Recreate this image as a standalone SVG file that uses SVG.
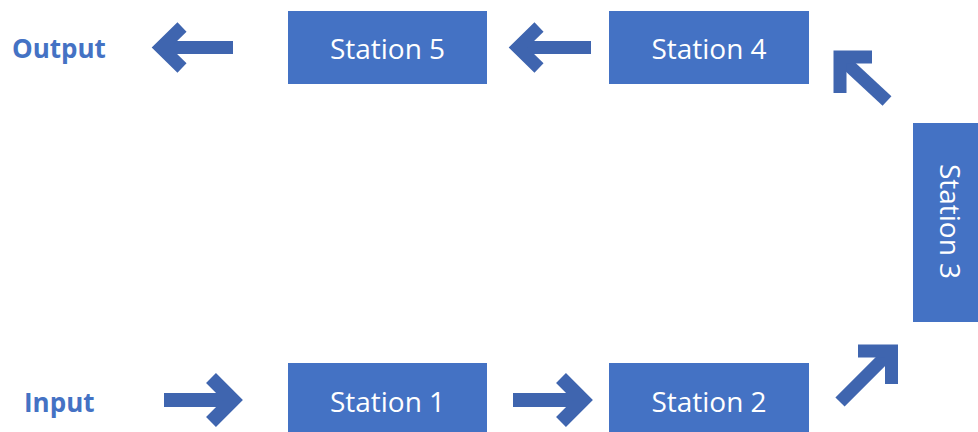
<svg xmlns="http://www.w3.org/2000/svg" width="978" height="432" viewBox="0 0 978 432">
  <style>
    .box { fill: #4472C4; }
    .lbl { fill: #ffffff; font-family: "Open Sans", "Liberation Sans", sans-serif; font-size: 28px; text-anchor: middle; }
    .io { fill: #4472C4; font-family: "Open Sans", "Liberation Sans", sans-serif; font-size: 26px; font-weight: bold; }
    .arw { fill: none; stroke: #3F65AF; stroke-width: 13; stroke-linejoin: miter; stroke-miterlimit: 10; stroke-linecap: butt; }
  </style>

  <g id="input"><text class="io" x="24" y="412">Input</text></g>
  <g id="output"><text class="io" x="12" y="58">Output</text></g>

  <g id="station1"><rect class="box" x="288" y="363" width="199" height="74"/><text class="lbl" x="387.5" y="411.5">Station 1</text></g>
  <g id="station2"><rect class="box" x="609" y="363" width="200" height="74"/><text class="lbl" x="709" y="411.5">Station 2</text></g>
  <g id="station3"><rect class="box" x="913" y="123" width="74" height="199"/><text class="lbl" transform="translate(940 221.5) rotate(90)">Station 3</text></g>
  <g id="station4"><rect class="box" x="609" y="11" width="200" height="73"/><text class="lbl" x="709" y="59">Station 4</text></g>
  <g id="station5"><rect class="box" x="288" y="11" width="199" height="73"/><text class="lbl" x="387.5" y="59">Station 5</text></g>

  <g id="connectors">
    <!-- input -> station 1 -->
    <path class="arw" style="stroke-width:14" d="M164 400 H232"/>
    <polyline class="arw" style="stroke-width:14" points="211,378 233,400 211,422"/>
    <!-- station 1 -> station 2 -->
    <path class="arw" style="stroke-width:14" d="M513 400 H582"/>
    <polyline class="arw" style="stroke-width:14" points="561,378 583,400 561,422"/>
    <!-- station 2 -> station 3 -->
    <path class="arw" d="M840 402 L888 354"/>
    <polyline class="arw" points="858,351 891.5,351 891.5,384"/>
    <!-- station 3 -> station 4 -->
    <path class="arw" d="M887 101 L845 62"/>
    <polyline class="arw" points="872,57 840,57 840,93"/>
    <!-- station 4 -> station 5 -->
    <path class="arw" d="M591 47.5 H520"/>
    <polyline class="arw" points="539,27 518,47.5 539,68"/>
    <!-- station 5 -> output -->
    <path class="arw" d="M233 47.5 H163"/>
    <polyline class="arw" points="182,27 161,47.5 182,68"/>
  </g>
</svg>
